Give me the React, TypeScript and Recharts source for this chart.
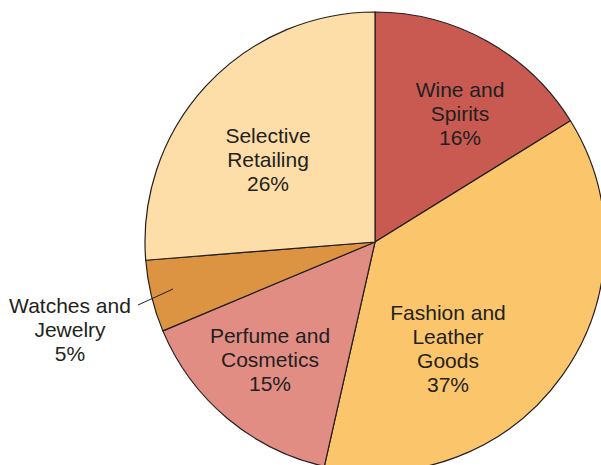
import React from 'react';
import { PieChart, Pie, Cell } from 'recharts';

// segment shares (%), clockwise from 12 o'clock
const CATEGORIES = ['Wine and Spirits', 'Fashion and Leather Goods', 'Perfume and Cosmetics', 'Watches and Jewelry', 'Selective Retailing'];
const SHARES = [16, 37, 15, 5, 26];
const LABEL_LINES = [
    ['Wine and', 'Spirits'],
    ['Fashion and', 'Leather', 'Goods'],
    ['Perfume and', 'Cosmetics'],
    ['Watches and', 'Jewelry'],
    ['Selective', 'Retailing'],
];

const COLORS = ['#C85A52', '#FBC66B', '#E28D84', '#DC9442', '#FDDEA9'];
const INK = '#231F20';

// label block centres, relative to the pie centre
const LABEL_OFFSETS: [number, number][] = [
    [85, -129],
    [73, 106],
    [-105, 117],
    [-305, 87],
    [-107, -83],
];
// leader line for the small slice (watches)
const LEADER: Record<number, [number, number, number, number]> = {
    3: [-237, 63, -202, 47],
};

const data = CATEGORIES.map((name, i) => ({ name, value: SHARES[i] }));

const LINE_H = 24;

const renderLabel = (props: any) => {
    const { cx, cy, index } = props;
    const lines = [...LABEL_LINES[index], `${SHARES[index]}%`];
    const [dx, dy] = LABEL_OFFSETS[index];
    const x = cx + dx;
    const top = cy + dy - ((lines.length - 1) * LINE_H) / 2;
    const leader = LEADER[index];
    return (
        <g key={`lbl-${index}`}>
            {leader && (
                <line
                    x1={cx + leader[0]}
                    y1={cy + leader[1]}
                    x2={cx + leader[2]}
                    y2={cy + leader[3]}
                    stroke={INK}
                    strokeWidth={1}
                />
            )}
            {lines.map((t, j) => (
                <text
                    key={j}
                    x={x}
                    y={top + j * LINE_H}
                    textAnchor="middle"
                    dominantBaseline="central"
                    fill={INK}
                    fontSize={21}
                    fontFamily="'Liberation Sans', Arial, sans-serif"
                >
                    {t}
                </text>
            ))}
        </g>
    );
};

export default function App() {
    return (
        <div style={{ position: 'absolute', left: 0, top: 0, width: 601, height: 465, background: '#fff' }}>
            <PieChart width={601} height={465} margin={{ top: 0, right: 0, bottom: 0, left: 0 }}>
                <Pie
                    data={data}
                    dataKey="value"
                    cx={375}
                    cy={242}
                    outerRadius={230}
                    startAngle={90}
                    endAngle={-270}
                    stroke={INK}
                    strokeWidth={1.2}
                    labelLine={false}
                    label={renderLabel}
                    isAnimationActive={false}
                >
                    {data.map((entry, index) => (
                        <Cell key={`cell-${index}`} fill={COLORS[index]} />
                    ))}
                </Pie>
            </PieChart>
        </div>
    );
}
